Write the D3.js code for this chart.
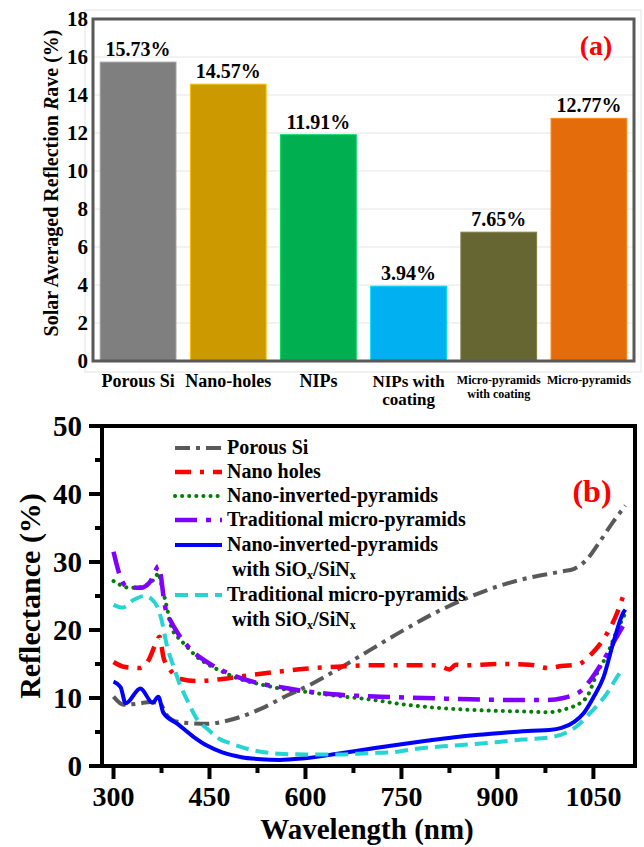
<!DOCTYPE html>
<html>
<head>
<meta charset="utf-8">
<script src="https://cdn.jsdelivr.net/npm/d3@7"></script>
<style>
body { margin: 0; background: #fff; }
text { font-family: "Liberation Serif", "Times New Roman", serif; font-weight: bold; }
</style>
</head>
<body>
<script>
// ---- panel (a) data
var categories = ['Porous Si', 'Nano-holes', 'NIPs', 'NIPs with coating', 'Micro-pyramids with coating', 'Micro-pyramids'];
var catLines = [['Porous Si'], ['Nano-holes'], ['NIPs'], ['NIPs with', 'coating'], ['Micro-pyramids', 'with coating'], ['Micro-pyramids']];
var barValues = [15.73, 14.57, 11.91, 3.94, 6.78, 12.77];
var barLabels = ['15.73%', '14.57%', '11.91%', '3.94%', '7.65%', '12.77%'];
var barColors = ['#7f7f7f', '#cc9900', '#00b050', '#00b0f0', '#666633', '#e46c0a'];
var yTicksA = [0, 2, 4, 6, 8, 10, 12, 14, 16, 18];

// ---- panel (b) data
var xTicksB = [300, 450, 600, 750, 900, 1050];
var yTicksB = [0, 10, 20, 30, 40, 50];

var wPorous = [300, 316, 340, 358, 372, 384, 400, 420, 447, 470, 498, 530, 572, 600, 650, 700, 750, 800, 850, 900, 950, 1000, 1020, 1040, 1060, 1080, 1100];
var rPorous = [10.2, 9.0, 9.2, 9.4, 9.2, 7.4, 6.5, 6.3, 6.2, 6.5, 7.2, 8.4, 10.4, 11.6, 14.2, 17.0, 19.8, 22.4, 24.6, 26.4, 27.7, 28.6, 29.0, 30.4, 33.0, 35.8, 38.3];

var wHoles = [300, 316, 340, 355, 366, 372, 378, 388, 405, 430, 470, 500, 550, 600, 650, 700, 750, 800, 815, 825, 835, 850, 900, 950, 980, 1000, 1025, 1045, 1072, 1087, 1100];
var rHoles = [15.3, 14.6, 14.4, 15.6, 18.0, 19.0, 16.0, 14.2, 12.8, 12.5, 12.8, 13.2, 13.8, 14.3, 14.6, 14.8, 14.8, 14.8, 14.5, 14.2, 14.9, 14.8, 15.0, 14.9, 14.4, 14.7, 14.9, 16.3, 19.6, 22.5, 26.0];

var wNIP = [300, 326, 342, 358, 366, 370, 374, 378, 383, 390, 400, 410, 431, 450, 472, 500, 530, 572, 600, 650, 700, 750, 800, 850, 900, 950, 980, 1000, 1014, 1030, 1040, 1056, 1072, 1085, 1100];
var rNIP = [27.2, 26.2, 26.3, 27.0, 27.8, 28.4, 27.0, 25.5, 23.5, 20.5, 19.0, 18.0, 16.0, 14.8, 13.8, 12.7, 12.0, 11.2, 10.9, 10.3, 9.8, 9.1, 8.6, 8.3, 8.1, 8.0, 7.9, 8.2, 8.6, 9.3, 10.2, 13.7, 16.5, 19.5, 22.5];

var wMicro = [300, 310, 320, 342, 358, 366, 370, 374, 378, 382, 389, 400, 420, 441, 478, 525, 561, 600, 650, 717, 822, 925, 978, 1003, 1020, 1030, 1045, 1066, 1081, 1095, 1100];
var rMicro = [31.5, 28.0, 26.4, 26.2, 27.2, 28.8, 29.4, 28.0, 25.0, 22.8, 21.4, 19.6, 17.2, 15.6, 13.7, 12.2, 11.6, 11.0, 10.5, 10.2, 9.9, 9.7, 9.7, 10.0, 10.5, 11.0, 12.6, 15.6, 18.1, 20.4, 21.2];

var wNIPc = [300, 311, 319, 342, 361, 370, 378, 400, 425, 446, 470, 500, 530, 560, 595, 650, 706, 750, 789, 830, 871, 910, 954, 981, 1000, 1020, 1035, 1050, 1066, 1081, 1097, 1100];
var rNIPc = [12.4, 11.6, 9.2, 11.4, 9.3, 10.2, 7.8, 6.2, 4.3, 3.0, 2.0, 1.3, 1.0, 0.9, 1.1, 1.8, 2.6, 3.2, 3.7, 4.2, 4.6, 4.9, 5.2, 5.3, 5.6, 6.5, 7.8, 10.1, 13.1, 18.1, 22.6, 23.0];

var wMicroc = [300, 314, 331, 348, 360, 368, 375, 384, 394, 402, 415, 431, 446, 465, 484, 510, 530, 560, 600, 650, 700, 733, 770, 815, 860, 898, 940, 981, 1010, 1026, 1045, 1060, 1072, 1085, 1095];
var rMicroc = [23.7, 23.3, 24.4, 25.0, 24.5, 23.5, 21.5, 17.5, 14.6, 12.4, 9.7, 6.8, 5.5, 4.0, 3.3, 2.5, 2.1, 1.8, 1.7, 1.7, 1.9, 2.0, 2.5, 2.9, 3.2, 3.5, 3.9, 4.2, 5.0, 6.0, 7.8, 9.3, 10.8, 12.8, 14.2];

var seriesNames = ['Porous Si', 'Nano holes', 'Nano-inverted-pyramids', 'Traditional micro-pyramids', 'Nano-inverted-pyramids', 'Traditional micro-pyramids'];

var svg = d3.select('body').append('svg').attr('width', 644).attr('height', 847);

// ================= panel (a)
var xa = d3.scaleBand().domain(categories).range([93, 634]).paddingInner(0.16).paddingOuter(0.08);
var ya = d3.scaleLinear().domain([0, 18]).range([361, 19]);

svg.append('rect').attr('x', 85).attr('y', 10).attr('width', 556).attr('height', 362)
   .attr('fill', 'none').attr('stroke', '#e4e4e4').attr('stroke-width', 1);

svg.selectAll('line.grid').data(yTicksA.slice(1, -1)).enter().append('line')
   .attr('class', 'grid')
   .attr('x1', 93).attr('x2', 634)
   .attr('y1', d => ya(d)).attr('y2', d => ya(d))
   .attr('stroke', '#e6e6e6').attr('stroke-width', 1);

svg.selectAll('rect.bar').data(barValues).enter().append('rect')
   .attr('class', 'bar')
   .attr('x', (d, i) => xa(categories[i]))
   .attr('y', d => ya(d))
   .attr('width', xa.bandwidth())
   .attr('height', d => ya(0) - ya(d))
   .attr('fill', (d, i) => barColors[i])
   .attr('stroke', (d, i) => d3.color(barColors[i]).brighter(0.6))
   .attr('stroke-width', 1);

svg.selectAll('text.val').data(barValues).enter().append('text')
   .attr('class', 'val')
   .attr('x', (d, i) => xa(categories[i]) + xa.bandwidth() / 2)
   .attr('y', d => ya(d) - 6)
   .attr('text-anchor', 'middle').attr('font-size', 20)
   .text((d, i) => barLabels[i]);

svg.append('rect').attr('x', 93).attr('y', 19).attr('width', 541).attr('height', 342)
   .attr('fill', 'none').attr('stroke', '#595959').attr('stroke-width', 3);

svg.selectAll('text.ya').data(yTicksA).enter().append('text')
   .attr('class', 'ya')
   .attr('x', 88).attr('y', d => ya(d) + 7)
   .attr('text-anchor', 'end').attr('font-size', 21)
   .text(d => d);

// category labels, one text per line
catLines.forEach(function(lines, i) {
  var small = i >= 4;
  var cx = xa(categories[i]) + xa.bandwidth() / 2;
  lines.forEach(function(s, j) {
    svg.append('text')
       .attr('x', cx)
       .attr('y', (small ? 384 : 387) + j * (small ? 14 : 18))
       .attr('text-anchor', 'middle')
       .attr('font-size', small ? 12 : (i === 3 ? 17 : 18))
       .text(s);
  });
});

var ta = svg.append('text').attr('transform', 'translate(58,183) rotate(-90)')
   .attr('text-anchor', 'middle').attr('font-size', 20);
ta.append('tspan').text('Solar Averaged Reflection ');
ta.append('tspan').attr('font-style', 'italic').text('R');
ta.append('tspan').text('ave (%)');

svg.append('text').attr('x', 596).attr('y', 55).attr('text-anchor', 'middle')
   .attr('font-size', 28).attr('fill', '#ff0000').text('(a)');

// ================= panel (b)
var xb = d3.scaleLinear().domain([282, 1115]).range([102, 635]);
var yb = d3.scaleLinear().domain([0, 50]).range([766, 426]);

var styles = [
  { w: wPorous, r: rPorous, color: '#595959', width: 4, dash: '15,6,4,6', cap: 'butt' },
  { w: wHoles, r: rHoles, color: '#ff0000', width: 4.5, dash: '16,9,4,9', cap: 'butt' },
  { w: wNIP, r: rNIP, color: '#007f00', width: 4, dash: '0.1,7', cap: 'round' },
  { w: wMicro, r: rMicro, color: '#7f00ff', width: 4.5, dash: '22,9,5,9', cap: 'butt' },
  { w: wNIPc, r: rNIPc, color: '#0000ff', width: 4, dash: null, cap: 'butt' },
  { w: wMicroc, r: rMicroc, color: '#26d4d4', width: 4, dash: '13,7', cap: 'butt' }
];

var line = d3.line().x(d => xb(d[0])).y(d => yb(d[1])).curve(d3.curveMonotoneX);

svg.selectAll('path.curve').data(styles).enter().append('path')
   .attr('class', 'curve')
   .attr('d', s => line(d3.zip(s.w, s.r)))
   .attr('fill', 'none')
   .attr('stroke', s => s.color)
   .attr('stroke-width', s => s.width)
   .attr('stroke-dasharray', s => s.dash)
   .attr('stroke-linecap', s => s.cap)
   .attr('stroke-linejoin', 'round');

// frame
svg.append('rect').attr('x', 102).attr('y', 426).attr('width', 533).attr('height', 340)
   .attr('fill', 'none').attr('stroke', '#000').attr('stroke-width', 4);

// y ticks
var yMinor = d3.range(5, 50, 10);
svg.selectAll('line.yt').data(yTicksB.concat(yMinor)).enter().append('line')
   .attr('x1', 102).attr('x2', d => yTicksB.indexOf(d) >= 0 ? 89 : 95)
   .attr('y1', d => yb(d)).attr('y2', d => yb(d))
   .attr('stroke', '#000').attr('stroke-width', 4);
svg.selectAll('text.yb').data(yTicksB).enter().append('text')
   .attr('x', 82).attr('y', d => yb(d) + 10)
   .attr('text-anchor', 'end').attr('font-size', 29).text(d => d);

// x ticks
var xMinor = d3.range(375, 1100, 150);
svg.selectAll('line.xt').data(xTicksB.concat(xMinor)).enter().append('line')
   .attr('x1', d => xb(d)).attr('x2', d => xb(d))
   .attr('y1', 766).attr('y2', d => xTicksB.indexOf(d) >= 0 ? 779 : 773)
   .attr('stroke', '#000').attr('stroke-width', 4);
svg.selectAll('text.xb').data(xTicksB).enter().append('text')
   .attr('x', d => xb(d)).attr('y', 806)
   .attr('text-anchor', 'middle').attr('font-size', 28).text(d => d);

svg.append('text').attr('x', 367).attr('y', 839).attr('text-anchor', 'middle')
   .attr('font-size', 29).text('Wavelength (nm)');
svg.append('text').attr('transform', 'translate(40,596) rotate(-90)')
   .attr('text-anchor', 'middle').attr('font-size', 30).text('Reflectance (%)');

svg.append('text').attr('x', 592).attr('y', 502).attr('text-anchor', 'middle')
   .attr('font-size', 32).attr('fill', '#ff0000').text('(b)');

// legend
var legY = [448, 472, 496, 520, 545, 595];
styles.forEach(function(s, i) {
  var y = legY[i];
  svg.append('line').attr('x1', 175).attr('x2', 222).attr('y1', y).attr('y2', y)
     .attr('stroke', s.color).attr('stroke-width', s.width)
     .attr('stroke-dasharray', s.dash).attr('stroke-linecap', s.cap);
  svg.append('text').attr('x', 227).attr('y', y + 6).attr('font-size', 20).text(seriesNames[i]);
  if (i >= 4) {
    var t = svg.append('text').attr('x', 232).attr('y', y + 31).attr('font-size', 20);
    t.append('tspan').text('with SiO');
    t.append('tspan').attr('font-size', 12).attr('dy', 3).text('x');
    t.append('tspan').attr('dy', -3).text('/SiN');
    t.append('tspan').attr('font-size', 12).attr('dy', 3).text('x');
  }
});
</script>
</body>
</html>
